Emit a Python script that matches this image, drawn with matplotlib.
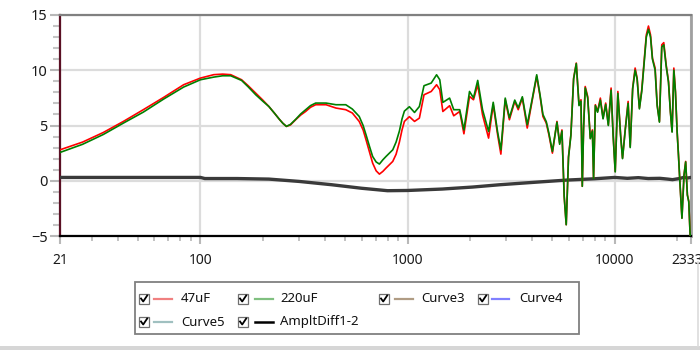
import matplotlib
matplotlib.use("Agg")
import matplotlib.pyplot as plt
from matplotlib.lines import Line2D
from matplotlib.patches import Rectangle
from matplotlib.ticker import FixedLocator, NullFormatter

# ---------------- data ----------------
freq = [21, 27, 34, 42.5, 53, 66.4, 83, 100, 116, 128, 140, 158, 170, 185, 200, 214, 228,
        240, 250, 260, 272, 288, 305, 322, 340, 360, 404, 451, 503, 541, 584, 610, 630,
        655, 678, 705, 731, 760, 787, 848, 880, 913, 940, 965,
        1020, 1080, 1140, 1200, 1300, 1380, 1430, 1480, 1595, 1670, 1785, 1870, 1990,
        2080, 2180, 2300, 2460, 2590, 2720, 2820, 2960, 3100, 3290, 3420, 3580, 3780,
        4000, 4200, 4360, 4500, 4670, 4810, 5000, 5260, 5420, 5560, 5700, 5830, 5980,
        6140, 6330, 6520, 6720, 6870, 6970, 7070, 7200, 7400, 7620, 7800, 7900, 8060,
        8260, 8520, 8780, 9040, 9310, 9600, 9820, 10050, 10350, 10670, 10900, 11250,
        11600, 11870, 12200, 12540, 12820, 13150, 13500, 13900, 14200, 14540, 14880,
        15200, 15660, 16020, 16430, 16860, 17240, 17700, 18170, 18560, 18910, 19280,
        19630, 20000, 20300, 20620, 21100, 21590, 21990, 22410, 22760, 23120]

red_47uF = [2.8, 3.5, 4.37, 5.37, 6.43, 7.54, 8.69, 9.29, 9.6, 9.65, 9.6, 9.14, 8.6,
            7.93, 7.3, 6.72, 6.1, 5.58, 5.2, 4.92, 5.05, 5.52, 5.95, 6.27, 6.65, 6.88,
            6.88, 6.58, 6.43, 6.13, 5.37, 4.6, 3.71, 2.6, 1.6, 0.9, 0.6, 0.85, 1.15,
            1.75, 2.4, 3.5, 4.6, 5.37, 5.8, 5.37, 5.67, 7.78, 8.08, 8.69, 8.24, 6.27,
            6.79, 5.88, 6.27, 4.25, 7.63, 7.33, 8.69, 5.97, 3.86, 6.88, 4.16, 2.41, 7.33,
            5.52, 7.18, 6.43, 7.48, 4.77, 7.33, 9.44, 7.63, 5.82, 5.22, 4.16, 2.5, 5.37,
            3.41, 4.6, -1.42, -3.98, 2.2, 4.16, 9.29, 10.65, 6.88, 7.33, -0.5, 4.77, 8.53,
            7.63, 3.86, 4.6, 0.24, 6.88, 6.27, 7.48, 5.67, 7.03, 5.07, 8.39, 4.16, 0.84,
            8.08, 4.16, 2.05, 4.77, 7.18, 3.1, 8.39, 10.2, 9.29, 6.58, 8.24, 11.1, 13.2,
            14.0, 13.2, 11.1, 10.2, 6.88, 5.37, 12.3, 12.5, 10.5, 9.0, 6.27, 4.46, 10.2,
            8.08, 4.46, 2.35, -0.06, -3.37, 0.54, 1.75, -1.27, -1.87, -5.0]

green_220uF = [2.56, 3.3, 4.19, 5.22, 6.21, 7.39, 8.48, 9.14, 9.38, 9.5, 9.5, 9.08, 8.5,
               7.78, 7.2, 6.72, 6.1, 5.58, 5.2, 4.92, 5.1, 5.55, 6.05, 6.43, 6.8, 7.03,
               7.03, 6.88, 6.88, 6.49, 5.82, 5.0, 4.16, 3.1, 2.2, 1.7, 1.51, 1.9, 2.2,
               2.8, 3.5, 4.5, 5.6, 6.3, 6.7, 6.18, 6.72, 8.6, 8.84, 9.59, 9.14, 7.09,
               7.48, 6.43, 6.43, 4.6, 8.08, 7.5, 9.08, 6.43, 4.46, 7.1, 4.4, 2.8, 7.48,
               5.7, 7.3, 6.6, 7.6, 5.07, 7.45, 9.59, 7.75, 6.0, 5.35, 4.3, 2.65, 5.3,
               3.3, 4.5, -1.42, -3.98, 2.1, 4.1, 9.2, 10.6, 6.8, 7.2, -0.5, 4.7, 8.4,
               7.5, 3.8, 4.5, 0.2, 6.8, 6.2, 7.3, 5.6, 6.9, 5.0, 8.2, 4.1, 0.8,
               7.9, 4.1, 2.0, 4.7, 7.0, 3.0, 8.3, 10.0, 9.2, 6.5, 8.1, 10.9, 13.0,
               13.7, 13.0, 11.0, 10.0, 6.8, 5.3, 12.1, 12.3, 10.4, 8.9, 6.2, 4.4, 10.0,
               8.0, 4.4, 2.3, -0.1, -3.4, 0.5, 1.7, -1.3, -1.9, -5.0]

diff_freq = [21, 100, 105, 150, 214, 299, 430, 600, 800, 1000, 1470, 2060, 2790,
             4020, 5870, 8000, 10000, 11500, 13000, 14500, 16500, 18000, 19000,
             20500, 21500, 22500, 23333]
diff_vals = [0.3, 0.3, 0.2, 0.2, 0.15, -0.06, -0.36, -0.68, -0.9, -0.88, -0.75, -0.57,
             -0.36, -0.15, 0.06, 0.18, 0.3, 0.22, 0.28, 0.2, 0.22, 0.15, 0.1,
             0.2, 0.3, 0.25, 0.3]

legend_labels = ["47uF", "220uF", "Curve3", "Curve4", "Curve5", "AmpltDiff1-2"]
legend_colors = ["#f08080", "#80c080", "#b09c84", "#8080ff", "#a0c0c0", "#000000"]

x_ticks = [21, 100, 1000, 10000, 23333]
x_tick_labels = ["21", "100", "1000", "10000", "23333"]
x_minor = [30, 40, 50, 60, 70, 80, 90, 200, 300, 400, 500, 600, 700, 800, 900,
           2000, 3000, 4000, 5000, 6000, 7000, 8000, 9000, 20000]
y_ticks = [-5, 0, 5, 10, 15]
y_minor = list(range(-5, 16))

# ---------------- figure ----------------
plt.rcParams['font.family'] = ['Noto Sans', 'DejaVu Sans']
fig = plt.figure(figsize=(7, 3.5), dpi=100)
ax = fig.add_axes([60 / 700, 1 - 236 / 350, 631 / 700, 221 / 350])
ax.set_xscale('log')
ax.set_xlim(21, 23333)
ax.set_ylim(-5, 15)

ax.plot(diff_freq, diff_vals, color='#3a3a3a', lw=2.4, zorder=3, solid_joinstyle='round')
ax.plot(freq, red_47uF, color='#ff0000', lw=1.2, zorder=4)
ax.plot(freq, green_220uF, color='#008000', lw=1.2, zorder=5)

ax.xaxis.set_major_locator(FixedLocator(x_ticks))
ax.set_xticklabels(x_tick_labels)
ax.xaxis.set_minor_locator(FixedLocator(x_minor))
ax.xaxis.set_minor_formatter(NullFormatter())
ax.yaxis.set_major_locator(FixedLocator(y_ticks))
ax.yaxis.set_minor_locator(FixedLocator(y_minor))
ax.yaxis.set_minor_formatter(NullFormatter())

ax.grid(True, which='major', color='#dcdcdc', lw=1.6, zorder=0)
ax.set_axisbelow(True)

ax.tick_params(axis='x', which='major', direction='out', length=6, width=1.5,
               color='#b8b8b8', labelsize=10, pad=6, labelcolor='#1a1a1a')
ax.tick_params(axis='x', which='minor', direction='out', length=3.5, width=1.2,
               color='#b8b8b8')
ax.tick_params(axis='y', which='major', direction='out', length=7, width=1.5,
               color='#b8b8b8', labelsize=10.5, pad=2, labelcolor='#1a1a1a')
ax.tick_params(axis='y', which='minor', direction='out', length=5, width=1.5,
               color='#c4c4c4')

ax.spines['left'].set_color('#5a1024')
ax.spines['left'].set_linewidth(1.6)
ax.spines['bottom'].set_color('#000000')
ax.spines['bottom'].set_linewidth(1.6)
ax.spines['top'].set_color('#808080')
ax.spines['top'].set_linewidth(1.6)
ax.spines['right'].set_color('#a0a0a0')
ax.spines['right'].set_linewidth(2.0)

# ---------------- legend (pixel overlay) ----------------
ov = fig.add_axes([0, 0, 1, 1])
ov.set_xlim(0, 700)
ov.set_ylim(350, 0)
ov.axis('off')

ov.add_patch(Rectangle((135, 282), 444, 52, fill=False, edgecolor='#808080', lw=1.3))
ov.add_patch(Rectangle((0, 346), 700, 4, color='#d6d6d6', lw=0))
ov.add_line(Line2D([698, 698], [262, 346], color='#dcdcdc', lw=1.2))

cols = [(139, 154, 172, 181), (238, 255, 273, 280), (379, 395, 413, 421), (478, 492, 509, 519)]
slots = [(0, 0), (0, 1), (0, 2), (0, 3), (1, 0), (1, 1)]
rows = [299, 322]
for (r, c), lab, colr in zip(slots, legend_labels, legend_colors):
    y = rows[r]
    cx, lx0, lx1, tx = cols[c]
    ov.add_patch(Rectangle((cx, y - 5.5), 10, 10, facecolor='white', edgecolor='#707070', lw=0.9))
    ov.add_line(Line2D([cx + 2, cx + 4.2, cx + 8.2], [y - 0.5, y + 2.5, y - 3.5],
                       color='black', lw=1.3))
    ov.add_line(Line2D([lx0, lx1], [y, y], color=colr, lw=1.6 if colr != '#000000' else 1.8))
    ov.text(tx, y, lab, fontsize=9.5, va='center', ha='left', color='#111111')

fig.savefig('out.png', dpi=100)
